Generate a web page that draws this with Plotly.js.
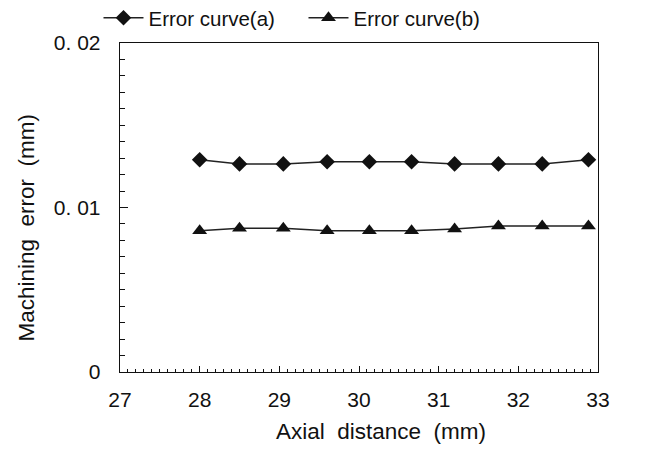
<!DOCTYPE html>
<html>
<head>
<meta charset="utf-8">
<script src="https://cdn.plot.ly/plotly-3.0.1.min.js"></script>
<style>html,body{margin:0;padding:0;background:#fff;}#chart{width:661px;height:465px;}</style>
</head>
<body>
<div id="chart"></div>
<script>
const xValues = [28.0, 28.5, 29.05, 29.6, 30.13, 30.66, 31.2, 31.75, 32.3, 32.88];
const errorA = [0.0129, 0.01265, 0.01265, 0.01278, 0.01278, 0.01278, 0.01265, 0.01265, 0.01265, 0.0129];
const errorB = [0.00858, 0.00874, 0.00874, 0.00858, 0.00858, 0.00858, 0.0087, 0.00888, 0.00888, 0.00888];
const seriesNames = ["Error curve(a)", "Error curve(b)"];
const xTicks = [27, 28, 29, 30, 31, 32, 33];
const yTicks = [0, 0.01, 0.02];
const yTickText = ["0", "0. 01", "0. 02"];
const xTitle = "Axial&nbsp; distance&nbsp; (mm)";
const yTitle = "Machining&nbsp; error&nbsp; (mm)";

const font = {family: "Liberation Sans, Arial, sans-serif", size: 20.5, color: "#111"};
const tickFont = {family: "Liberation Sans, Arial, sans-serif", size: 21, color: "#111"};
const titleFont = {family: "Liberation Sans, Arial, sans-serif", size: 22.5, color: "#111"};

const traces = [
  {x: xValues, y: errorA, name: seriesNames[0], type: "scatter", mode: "lines+markers",
   line: {color: "#222", width: 1.5}, marker: {symbol: "diamond", size: 12, color: "#111"}},
  {x: xValues, y: errorB, name: seriesNames[1], type: "scatter", mode: "lines+markers",
   line: {color: "#222", width: 1.5}, marker: {symbol: "triangle-up", size: 13, color: "#111"}}
];

const layout = {
  width: 661, height: 465,
  margin: {l: 120, r: 63, t: 43, b: 93, autoexpand: false},
  paper_bgcolor: "#fff", plot_bgcolor: "#fff",
  font: font,
  showlegend: true,
  legend: {orientation: "h", x: -0.045, xanchor: "left", y: 1.076, yanchor: "middle",
           font: font, itemwidth: 40, entrywidth: 150, bgcolor: "rgba(0,0,0,0)", tracegroupgap: 0},
  xaxis: {
    range: [27, 33], tickvals: xTicks, ticktext: xTicks.map(String), tickfont: tickFont,
    showgrid: false, zeroline: false, showline: true, linecolor: "#111", linewidth: 1.3,
    mirror: true, ticks: "inside", ticklen: 6, tickcolor: "#111", tickwidth: 1,
    ticklabelstandoff: 8, automargin: false,
    minor: {dtick: 0.1, ticks: "inside", ticklen: 3, tickcolor: "#111", tickwidth: 1, showgrid: false}
  },
  yaxis: {
    range: [0, 0.02], tickvals: yTicks, ticktext: yTickText, tickfont: tickFont,
    showgrid: false, zeroline: false, showline: true, linecolor: "#111", linewidth: 1.3,
    mirror: true, ticks: "inside", ticklen: 8, tickcolor: "#111", tickwidth: 1,
    ticklabelstandoff: 14, automargin: false,
    minor: {dtick: 0.001, ticks: "inside", ticklen: 5, tickcolor: "#111", tickwidth: 1, showgrid: false}
  },
  annotations: [
    {text: xTitle, xref: "paper", yref: "paper", x: 0.546, y: -0.18, xanchor: "center", yanchor: "middle",
     showarrow: false, font: titleFont},
    {text: yTitle, xref: "paper", yref: "paper", x: -0.196, y: 0.44, xanchor: "center", yanchor: "middle",
     textangle: -90, showarrow: false, font: titleFont}
  ]
};

Plotly.newPlot("chart", traces, layout, {displayModeBar: false, staticPlot: true});
</script>
</body>
</html>
